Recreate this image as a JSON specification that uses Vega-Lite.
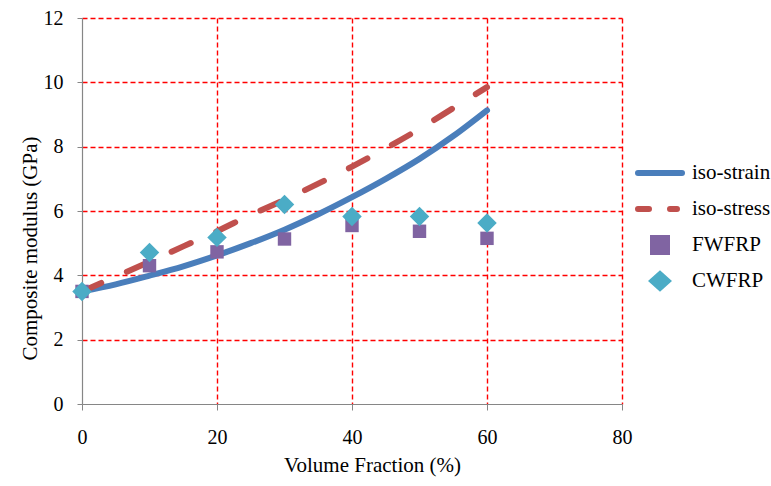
{
  "$schema": "https://vega.github.io/schema/vega-lite/v6.json",
  "width": 540,
  "height": 386,
  "autosize": {"type": "none"},
  "padding": {"left": 82, "top": 18, "right": 149, "bottom": 82},
  "background": "white",
  "config": {
    "view": {"stroke": null},
    "font": "Liberation Serif",
    "axis": {
      "labelFont": "Liberation Serif",
      "labelFontSize": 20,
      "labelColor": "#000000",
      "labelFlush": false,
      "titleFont": "Liberation Serif",
      "titleFontSize": 21,
      "titleFontWeight": "normal",
      "titleColor": "#000000",
      "domainColor": "#868686",
      "domainWidth": 1.2,
      "tickColor": "#868686",
      "gridColor": {"condition": {"test": "datum.value === 0", "value": "transparent"}, "value": "#ff0000"},
      "gridDash": [5, 3],
      "gridWidth": 1.4,
      "gridOpacity": 1
    },
    "legend": {
      "labelFont": "Liberation Serif",
      "labelFontSize": 21,
      "labelColor": "#000000"
    }
  },
  "data": {
    "values": [
      {"series": "iso-strain", "x": 0, "y": 3.5},
      {"series": "iso-strain", "x": 5, "y": 3.72},
      {"series": "iso-strain", "x": 10, "y": 3.99},
      {"series": "iso-strain", "x": 15, "y": 4.28},
      {"series": "iso-strain", "x": 20, "y": 4.62},
      {"series": "iso-strain", "x": 25, "y": 5.0},
      {"series": "iso-strain", "x": 30, "y": 5.42},
      {"series": "iso-strain", "x": 35, "y": 5.9},
      {"series": "iso-strain", "x": 40, "y": 6.43},
      {"series": "iso-strain", "x": 45, "y": 7.0},
      {"series": "iso-strain", "x": 50, "y": 7.62},
      {"series": "iso-strain", "x": 55, "y": 8.33},
      {"series": "iso-strain", "x": 60, "y": 9.13},
      {"series": "iso-stress", "x": 0, "y": 3.5},
      {"series": "iso-stress", "x": 5, "y": 3.96},
      {"series": "iso-stress", "x": 10, "y": 4.42},
      {"series": "iso-stress", "x": 15, "y": 4.9},
      {"series": "iso-stress", "x": 20, "y": 5.37},
      {"series": "iso-stress", "x": 25, "y": 5.88},
      {"series": "iso-stress", "x": 30, "y": 6.35},
      {"series": "iso-stress", "x": 35, "y": 6.85},
      {"series": "iso-stress", "x": 40, "y": 7.38},
      {"series": "iso-stress", "x": 45, "y": 7.95},
      {"series": "iso-stress", "x": 50, "y": 8.55},
      {"series": "iso-stress", "x": 55, "y": 9.2},
      {"series": "iso-stress", "x": 60, "y": 9.85},
      {"series": "FWFRP", "x": 0, "y": 3.5},
      {"series": "FWFRP", "x": 10, "y": 4.3},
      {"series": "FWFRP", "x": 20, "y": 4.73},
      {"series": "FWFRP", "x": 30, "y": 5.13},
      {"series": "FWFRP", "x": 40, "y": 5.55},
      {"series": "FWFRP", "x": 50, "y": 5.37},
      {"series": "FWFRP", "x": 60, "y": 5.15},
      {"series": "CWFRP", "x": 0, "y": 3.5},
      {"series": "CWFRP", "x": 10, "y": 4.71},
      {"series": "CWFRP", "x": 20, "y": 5.18},
      {"series": "CWFRP", "x": 30, "y": 6.2},
      {"series": "CWFRP", "x": 40, "y": 5.83},
      {"series": "CWFRP", "x": 50, "y": 5.83},
      {"series": "CWFRP", "x": 60, "y": 5.63}
    ]
  },
  "encoding": {
    "x": {
      "field": "x", "type": "quantitative",
      "scale": {"domain": [0, 80], "nice": false},
      "axis": {
        "title": "Volume Fraction (%)",
        "values": [0, 20, 40, 60, 80],
        "tickSize": 6,
        "labelPadding": 17,
        "titleX": 290,
        "titleY": 50,
        "titleBaseline": "top"
      }
    },
    "y": {
      "field": "y", "type": "quantitative",
      "scale": {"domain": [0, 12], "nice": false},
      "axis": {
        "title": "Composite modulus (GPa)",
        "values": [0, 2, 4, 6, 8, 10, 12],
        "tickSize": 5,
        "labelPadding": 14,
        "titleX": -42,
        "titleY": 230
      }
    },
    "color": {
      "field": "series", "type": "nominal",
      "scale": {
        "domain": ["iso-strain", "iso-stress", "FWFRP", "CWFRP"],
        "range": ["#4a7ebb", "#c0504d", "#8064a2", "#4bacc6"]
      },
      "legend": {
        "title": null,
        "orient": "none",
        "legendX": 550,
        "legendY": 144,
        "padding": 0,
        "clipHeight": 22,
        "rowPadding": 14,
        "symbolSize": 2500,
        "symbolStrokeWidth": 6,
        "symbolOffset": 0,
        "labelOffset": 4,
        "labelBaseline": "middle",
        "labelFont": "Liberation Serif",
        "encode": {
          "labels": {
            "update": {
              "font": {"value": "Liberation Serif"}
            }
          },
          "symbols": {
            "update": {
              "shape": {"signal": "datum.value === 'iso-strain' ? 'M-0.88,0H0.88' : datum.value === 'iso-stress' ? 'M-0.88,0H-0.44M0.4,0H0.68' : datum.value === 'FWFRP' ? 'M-0.28,-0.28H0.28V0.28H-0.28Z' : 'M-0.3,0L0,-0.27L0.3,0L0,0.27Z'"},
              "size": {"value": 2500},
              "stroke": {"signal": "datum.value === 'iso-strain' ? '#4a7ebb' : datum.value === 'iso-stress' ? '#c0504d' : 'transparent'"},
              "fill": {"signal": "datum.value === 'FWFRP' ? '#8064a2' : datum.value === 'CWFRP' ? '#4bacc6' : 'transparent'"},
              "strokeWidth": {"value": 6},
              "strokeCap": {"value": "round"},
              "strokeDash": {"value": []},
              "opacity": {"value": 1}
            }
          }
        }
      }
    }
  },
  "layer": [
    {
      "transform": [{"filter": "datum.series === 'iso-strain'"}],
      "mark": {"type": "line", "strokeWidth": 6, "interpolate": "monotone", "strokeCap": "round"}
    },
    {
      "transform": [{"filter": "datum.series === 'iso-stress'"}],
      "mark": {"type": "line", "strokeWidth": 6, "interpolate": "monotone", "strokeCap": "round", "strokeDash": [21, 28]}
    },
    {
      "transform": [{"filter": "datum.series === 'FWFRP'"}],
      "mark": {"type": "point", "shape": "square", "filled": true, "size": 180, "opacity": 1, "strokeWidth": 0}
    },
    {
      "transform": [{"filter": "datum.series === 'CWFRP'"}],
      "mark": {"type": "point", "shape": "diamond", "filled": true, "size": 380, "opacity": 1, "strokeWidth": 0}
    }
  ]
}
